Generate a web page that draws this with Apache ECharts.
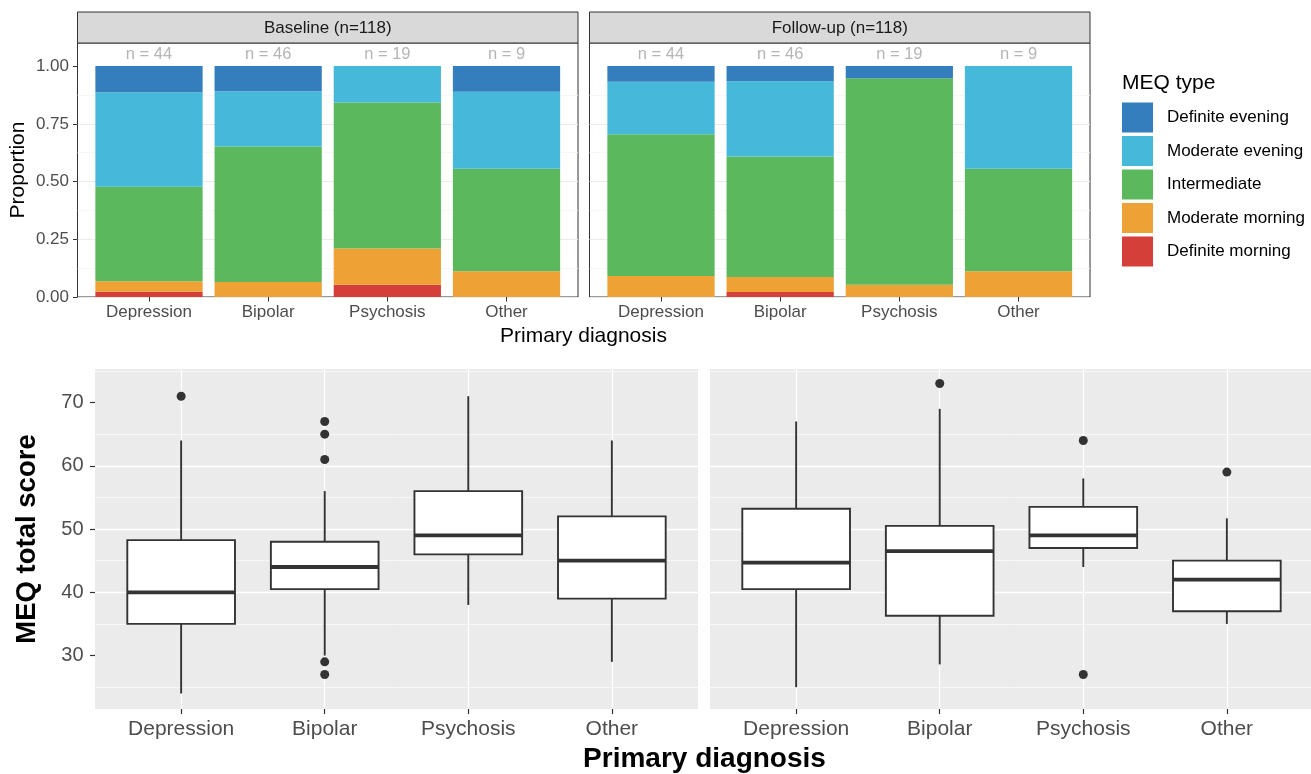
<!DOCTYPE html>
<html>
<head>
<meta charset="utf-8">
<script src="https://cdn.jsdelivr.net/npm/echarts@6/dist/echarts.min.js"></script>
<style>html,body{margin:0;padding:0;background:#fff}#c{width:1311px;height:774px}</style>
</head>
<body>
<div id="c"></div>
<script>
// ---------------- DATA ----------------
const categories = ['Depression', 'Bipolar', 'Psychosis', 'Other'];
const nCounts = [44, 46, 19, 9];
const meqTypes = ['Definite morning', 'Moderate morning', 'Intermediate', 'Moderate evening', 'Definite evening'];
const legendOrder = ['Definite evening', 'Moderate evening', 'Intermediate', 'Moderate morning', 'Definite morning'];
const meqColors = ['#D43F3A', '#EEA236', '#5CB85C', '#46B8DA', '#357EBD'];

// counts per MEQ type (per diagnosis), baseline
const baseDefMorning   = [1, 0, 1, 0];
const baseModMorning   = [2, 3, 3, 1];
const baseIntermediate = [18, 27, 12, 4];
const baseModEvening   = [18, 11, 3, 3];
const baseDefEvening   = [5, 5, 0, 1];
// counts per MEQ type, follow-up
const fuDefMorning   = [0, 1, 0, 0];
const fuModMorning   = [4, 3, 1, 1];
const fuIntermediate = [27, 24, 17, 4];
const fuModEvening   = [10, 15, 0, 4];
const fuDefEvening   = [3, 3, 1, 0];

const propTicks = [0, 0.25, 0.5, 0.75, 1];
const scoreTicks = [30, 40, 50, 60, 70];

// box stats [min whisker, Q1, median, Q3, max whisker]
const baseBox = [
  [24, 35, 40, 48.25, 64],
  [30, 40.5, 44, 48, 56],
  [38, 46, 49, 56, 71],
  [29, 39, 45, 52, 64]
];
const baseOutliers = [['Depression', 71], ['Bipolar', 67], ['Bipolar', 65], ['Bipolar', 61], ['Bipolar', 29], ['Bipolar', 27]];
const fuBox = [
  [25, 40.5, 44.7, 53.2, 67],
  [28.6, 36.3, 46.5, 50.5, 69],
  [44, 47, 49, 53.5, 58],
  [35, 37, 42, 45, 51.7]
];
const fuOutliers = [['Bipolar', 73], ['Psychosis', 64], ['Psychosis', 27], ['Other', 59]];

// ---------------- CHART ----------------
const FONT = '"Liberation Sans", Arial, sans-serif';
const chart = echarts.init(document.getElementById('c'), null, {renderer: 'canvas'});

const grids = [], xAxes = [], yAxes = [], series = [];

function addPanel(p) {
  const inset = p.width / 42;
  const gOuter = grids.length;
  grids.push({left: p.left, top: p.top, width: p.width, height: p.height, show: true,
    backgroundColor: p.isTop ? '#FFFFFF' : '#EBEBEB',
    borderColor: '#333333', borderWidth: p.isTop ? 1 : 0, containLabel: false});
  const gInner = grids.length;
  grids.push({left: p.left + inset, top: p.top, width: p.width - 2 * inset, height: p.height, show: false, containLabel: false});

  xAxes.push({gridIndex: gOuter, type: 'value', show: false, min: 0, max: 1});
  const ticks = p.isTop ? propTicks : scoreTicks;
  const yOuter = {
    gridIndex: gOuter, type: 'value', min: p.min, max: p.max,
    axisLine: {show: false},
    axisTick: {show: p.showY, length: p.isTop ? 4.5 : 5, customValues: ticks, lineStyle: {color: '#333333', width: p.isTop ? 1 : 1.2}},
    axisLabel: {show: p.showY, customValues: ticks, color: '#4D4D4D', fontFamily: FONT,
      fontSize: p.isTop ? 17 : 20, margin: p.isTop ? 8.5 : 11.5,
      formatter: p.isTop ? (v => v.toFixed(2)) : (v => String(v))},
    splitLine: {show: true, showMinLine: p.isTop, showMaxLine: false,
      lineStyle: {color: p.isTop ? '#EBEBEB' : '#FFFFFF', width: p.isTop ? 1 : 1.3}},
    minorTick: {show: false, splitNumber: 2},
    minorSplitLine: {show: true, lineStyle: {color: p.isTop ? '#F4F4F4' : '#FFFFFF', width: p.isTop ? 0.7 : 0.6}}
  };
  if (p.isTop) yOuter.interval = 0.25; else yOuter.splitNumber = 5;
  yAxes.push(yOuter);

  xAxes.push({gridIndex: gInner, type: 'category', data: categories,
    axisLine: {show: false},
    axisTick: {show: true, alignWithLabel: true, interval: 0, length: p.isTop ? 4.5 : 5,
      lineStyle: {color: '#333333', width: p.isTop ? 1 : 1.2}},
    axisLabel: {interval: 0, color: '#4D4D4D', fontFamily: FONT, fontSize: p.isTop ? 17 : 21, margin: p.isTop ? 7 : 10},
    splitLine: {show: !p.isTop, interval: 0, alignWithLabel: true, lineStyle: {color: '#FFFFFF', width: 1.3}}
  });
  yAxes.push({gridIndex: gInner, type: 'value', show: false, min: p.min, max: p.max,
    splitLine: {show: false}});
  return gInner;
}

const topCfg = {top: 43, height: 254, isTop: true, min: 0, max: 1.1};
const botCfg = {top: 369, height: 340, isTop: false, min: 21.55, max: 75.3};
const gTL = addPanel(Object.assign({}, topCfg, {left: 77.5, width: 500.5, showY: true}));
const gTR = addPanel(Object.assign({}, topCfg, {left: 589.5, width: 500.5, showY: false}));
const gBL = addPanel(Object.assign({}, botCfg, {left: 95, width: 603, showY: true}));
const gBR = addPanel(Object.assign({}, botCfg, {left: 710, width: 603, showY: false}));

function addBars(gi, stackName, typeCounts) {
  typeCounts.forEach((counts, t) => {
    series.push({
      name: meqTypes[t], type: 'bar', xAxisIndex: gi, yAxisIndex: gi, stack: stackName,
      barWidth: '90%', itemStyle: {color: meqColors[t]},
      data: counts.map((c, i) => c / nCounts[i]),
      emphasis: {disabled: true}, z: 2
    });
  });
  series.push({
    type: 'scatter', xAxisIndex: gi, yAxisIndex: gi, symbolSize: 1,
    itemStyle: {color: 'rgba(0,0,0,0)'}, z: 3,
    data: categories.map((c, i) => [i, 1.052]),
    label: {show: true, position: 'inside', color: '#A3A3A3', fontFamily: FONT, fontSize: 16.5,
      formatter: p => 'n = ' + nCounts[p.dataIndex]}
  });
}
addBars(gTL, 'base', [baseDefMorning, baseModMorning, baseIntermediate, baseModEvening, baseDefEvening]);
addBars(gTR, 'fu', [fuDefMorning, fuModMorning, fuIntermediate, fuModEvening, fuDefEvening]);

function renderBox(params, api) {
  const idx = api.value(0);
  const lo = api.coord([idx, api.value(1)]);
  const q1 = api.coord([idx, api.value(2)]);
  const med = api.coord([idx, api.value(3)]);
  const q3 = api.coord([idx, api.value(4)]);
  const hi = api.coord([idx, api.value(5)]);
  const band = api.size([1, 0])[0];
  const w = band * 0.75;
  const x = lo[0];
  const st = {stroke: '#333333', lineWidth: 1.9, fill: null};
  return {type: 'group', children: [
    {type: 'line', shape: {x1: x, y1: hi[1], x2: x, y2: q3[1]}, style: st},
    {type: 'line', shape: {x1: x, y1: q1[1], x2: x, y2: lo[1]}, style: st},
    {type: 'rect', shape: {x: x - w / 2, y: q3[1], width: w, height: q1[1] - q3[1]},
      style: {fill: '#FFFFFF', stroke: '#333333', lineWidth: 1.9}},
    {type: 'line', shape: {x1: x - w / 2, y1: med[1], x2: x + w / 2, y2: med[1]},
      style: {stroke: '#333333', lineWidth: 3.8}}
  ]};
}
function addBoxes(gi, boxes, outliers) {
  series.push({
    type: 'custom', xAxisIndex: gi, yAxisIndex: gi, renderItem: renderBox, z: 3,
    encode: {x: 0, y: [1, 2, 3, 4, 5]},
    data: boxes.map((b, i) => [i].concat(b))
  });
  series.push({
    type: 'scatter', xAxisIndex: gi, yAxisIndex: gi, symbolSize: 9, z: 4,
    itemStyle: {color: '#333333', opacity: 1}, data: outliers
  });
}
addBoxes(gBL, baseBox, baseOutliers);
addBoxes(gBR, fuBox, fuOutliers);

function txt(x, y, text, size, opts) {
  return Object.assign({type: 'text', x: x, y: y, silent: true,
    style: Object.assign({text: text, fill: '#000000', font: size + 'px ' + FONT,
      align: 'center', verticalAlign: 'middle'}, (opts && opts.style) || {})},
    opts && opts.rotation ? {rotation: opts.rotation} : {});
}

const graphics = [
  {type: 'rect', shape: {x: 77.5, y: 12, width: 500.5, height: 31}, silent: true,
    style: {fill: '#D9D9D9', stroke: '#333333', lineWidth: 1}},
  {type: 'rect', shape: {x: 589.5, y: 12, width: 500.5, height: 31}, silent: true,
    style: {fill: '#D9D9D9', stroke: '#333333', lineWidth: 1}},
  txt(327.75, 28, 'Baseline (n=118)', 17, {style: {fill: '#1A1A1A'}}),
  txt(839.75, 28, 'Follow-up (n=118)', 17, {style: {fill: '#1A1A1A'}}),
  txt(18.5, 170, 'Proportion', 21, {rotation: Math.PI / 2}),
  txt(583.5, 336, 'Primary diagnosis', 21),
  txt(1122, 83, 'MEQ type', 21, {style: {align: 'left'}}),
  txt(27, 539, 'MEQ total score', 27.5, {rotation: Math.PI / 2, style: {font: 'bold 27.5px ' + FONT}}),
  txt(704.5, 759, 'Primary diagnosis', 27.5, {style: {font: 'bold 28px ' + FONT}})
];

chart.setOption({
  animation: false,
  backgroundColor: '#FFFFFF',
  grid: grids,
  xAxis: xAxes,
  yAxis: yAxes,
  legend: {
    data: legendOrder, orient: 'vertical', left: 1122, top: 102.5, padding: 0,
    itemWidth: 31, itemHeight: 30, itemGap: 3.5, icon: 'rect', selectedMode: false,
    textStyle: {color: '#000000', fontFamily: FONT, fontSize: 17, padding: [0, 0, 0, 9]}
  },
  graphic: graphics,
  series: series
});
</script>
</body>
</html>
